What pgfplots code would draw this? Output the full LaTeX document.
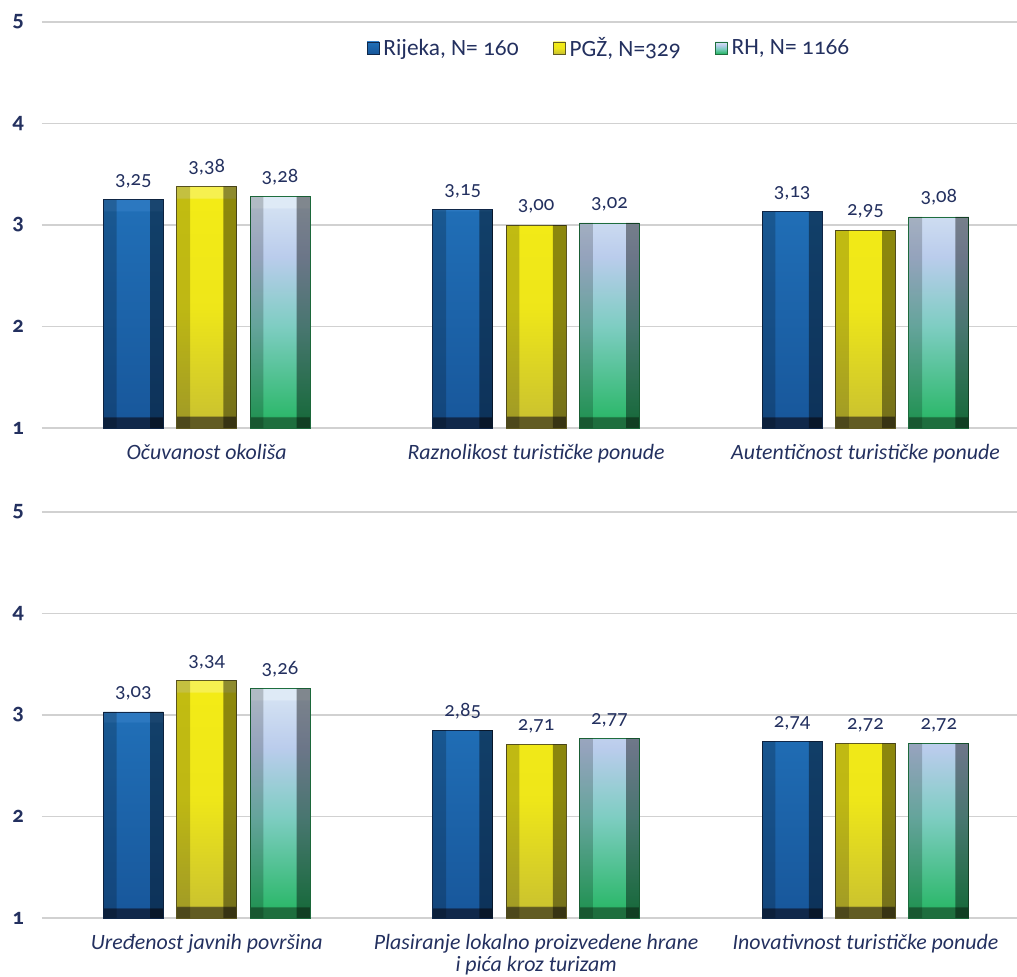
\documentclass[border=0pt]{standalone}
\usepackage{pgfplots}
\pgfplotsset{compat=1.18}
\usepgfplotslibrary{groupplots}
\usepackage{fontspec}
\setmainfont{Carlito}[Numbers=OldStyle]
\definecolor{txt}{RGB}{35,48,95}
% bar shadings: dark bottom band, body, lighter top band
\definecolor{rijBand}{RGB}{16,40,74}
\definecolor{rijLow}{RGB}{24,88,156}
\definecolor{rijTop}{RGB}{32,110,182}
\definecolor{rijHi}{RGB}{44,120,192}
\definecolor{pgzBand}{RGB}{97,91,34}
\definecolor{pgzLow}{RGB}{204,196,46}
\definecolor{pgzTop}{RGB}{243,235,22}
\definecolor{pgzHi}{RGB}{246,240,80}
\definecolor{rhBand}{RGB}{30,110,62}
\definecolor{rhLow}{RGB}{46,184,108}
\definecolor{rhMid}{RGB}{126,205,194}
\definecolor{rhLav}{RGB}{186,204,236}
\definecolor{rhTop}{RGB}{210,224,242}
\definecolor{rhHi}{RGB}{222,234,246}
\pgfdeclareverticalshading{rijshade}{100bp}{color(0bp)=(rijBand); color(27.3bp)=(rijBand); color(27.6bp)=(rijLow); color(72.4bp)=(rijTop); color(72.7bp)=(rijHi); color(100bp)=(rijHi)}
\pgfdeclareverticalshading{pgzshade}{100bp}{color(0bp)=(pgzBand); color(27.3bp)=(pgzBand); color(27.6bp)=(pgzLow); color(50bp)=(pgzTop!88!pgzLow); color(72.4bp)=(pgzTop); color(72.7bp)=(pgzHi); color(100bp)=(pgzHi)}
\pgfdeclareverticalshading{rhshade}{100bp}{color(0bp)=(rhBand); color(27.3bp)=(rhBand); color(27.6bp)=(rhLow); color(47bp)=(rhMid); color(62bp)=(rhLav); color(72.4bp)=(rhTop); color(72.7bp)=(rhHi); color(100bp)=(rhHi)}

\pgfplotsset{
  vals/.style={nodes near coords, point meta=rawy,
    every node near coord/.append style={font=\fontsize{15.5}{16}\selectfont, text=txt, yshift=5pt},
    /pgf/number format/.cd, fixed, fixed zerofill, precision=2, use comma},
  rij/.style={draw=rijBand, line width=0.5pt, shading=rijshade, /pgf/bar shift=-55pt},
  pgz/.style={draw=pgzBand, line width=0.5pt, shading=pgzshade, /pgf/bar shift=0pt},
  rh/.style={draw=rhBand, line width=0.5pt, shading=rhshade, /pgf/bar shift=55pt},
  rstrip/.style={fill=black, fill opacity=0.42, draw=none, /pgf/bar width=10pt, forget plot},
  lstrip/.style={fill=black, fill opacity=0.2, draw=none, /pgf/bar width=10pt, forget plot},
}

\begin{document}
\begin{tikzpicture}
\begin{groupplot}[
  group style={group size=1 by 2, vertical sep=63pt},
  scale only axis, width=731.25pt, height=304.5pt,
  y coord trafo/.code={\pgfmathparse{#1-1}},
  y coord inv trafo/.code={\pgfmathparse{#1+1}},
  ymin=1, ymax=5, ytick={1,2,3,4,5},
  xmin=-0.5, xmax=2.46, xtick={0,1,2},
  ymajorgrids, grid style={black!18, line width=0.9pt},
  axis line style={draw=none}, major tick length=0pt,
  ybar, /pgf/bar width=45pt,
  tick label style={text=txt},
  yticklabel style={font=\bfseries\fontsize{17}{18}\selectfont, xshift=-10pt,
    /pgf/number format/.cd, fixed, precision=0},
  xticklabel style={font=\itshape\fontsize{16.4}{16}\selectfont, align=center, yshift=-9pt},
  /pgf/number format/assume math mode=true,
  legend image code/.code={\draw[#1, line width=0.3pt] (0pt,-4.5pt) rectangle (9pt,4.5pt);},
]
\nextgroupplot[
  xticklabels={O\v{c}uvanost okoli\v{s}a, Raznolikost turisti\v{c}ke ponude, Autenti\v{c}nost turisti\v{c}ke ponude},
  legend style={at={(0.582,0.936)}, anchor=center, draw=none, legend columns=-1,
    font=\fontsize{17.5}{19}\selectfont, text=txt,
    /tikz/every odd column/.append style={column sep=1pt},
    /tikz/every even column/.append style={column sep=24pt}},
]
\addplot[rij, vals] coordinates {(0,3.25) (1,3.15) (2,3.13)};
\addplot[pgz, vals] coordinates {(0,3.38) (1,3.00) (2,2.95)};
\addplot[rh, vals] coordinates {(0,3.28) (1,3.02) (2,3.08)};
\addplot[rstrip, /pgf/bar shift=-37.5pt] coordinates {(0,3.25) (1,3.15) (2,3.13)};
\addplot[rstrip, /pgf/bar shift=17.5pt] coordinates {(0,3.38) (1,3.00) (2,2.95)};
\addplot[rstrip, /pgf/bar shift=72.5pt] coordinates {(0,3.28) (1,3.02) (2,3.08)};
\addplot[lstrip, /pgf/bar shift=-72.5pt] coordinates {(0,3.25) (1,3.15) (2,3.13)};
\addplot[lstrip, /pgf/bar shift=-17.5pt] coordinates {(0,3.38) (1,3.00) (2,2.95)};
\addplot[lstrip, /pgf/bar shift=37.5pt] coordinates {(0,3.28) (1,3.02) (2,3.08)};
\legend{{Rijeka, N= 160}, {PG\v{Z}, N=329}, {RH, N= 1166}}
\nextgroupplot[
  xticklabels={Ure\dj{}enost javnih povr\v{s}ina, {Plasiranje lokalno proizvedene hrane\\ i pi\'{c}a kroz turizam}, Inovativnost turisti\v{c}ke ponude},
]
\addplot[rij, vals] coordinates {(0,3.03) (1,2.85) (2,2.74)};
\addplot[pgz, vals] coordinates {(0,3.34) (1,2.71) (2,2.72)};
\addplot[rh, vals] coordinates {(0,3.26) (1,2.77) (2,2.72)};
\addplot[rstrip, /pgf/bar shift=-37.5pt] coordinates {(0,3.03) (1,2.85) (2,2.74)};
\addplot[rstrip, /pgf/bar shift=17.5pt] coordinates {(0,3.34) (1,2.71) (2,2.72)};
\addplot[rstrip, /pgf/bar shift=72.5pt] coordinates {(0,3.26) (1,2.77) (2,2.72)};
\addplot[lstrip, /pgf/bar shift=-72.5pt] coordinates {(0,3.03) (1,2.85) (2,2.74)};
\addplot[lstrip, /pgf/bar shift=-17.5pt] coordinates {(0,3.34) (1,2.71) (2,2.72)};
\addplot[lstrip, /pgf/bar shift=37.5pt] coordinates {(0,3.26) (1,2.77) (2,2.72)};
\end{groupplot}
\pgfresetboundingbox
\path (group c1r1.north west) ++(-31.5pt,16.5pt) rectangle ++(762.75pt,-732pt);
\end{tikzpicture}
\end{document}
